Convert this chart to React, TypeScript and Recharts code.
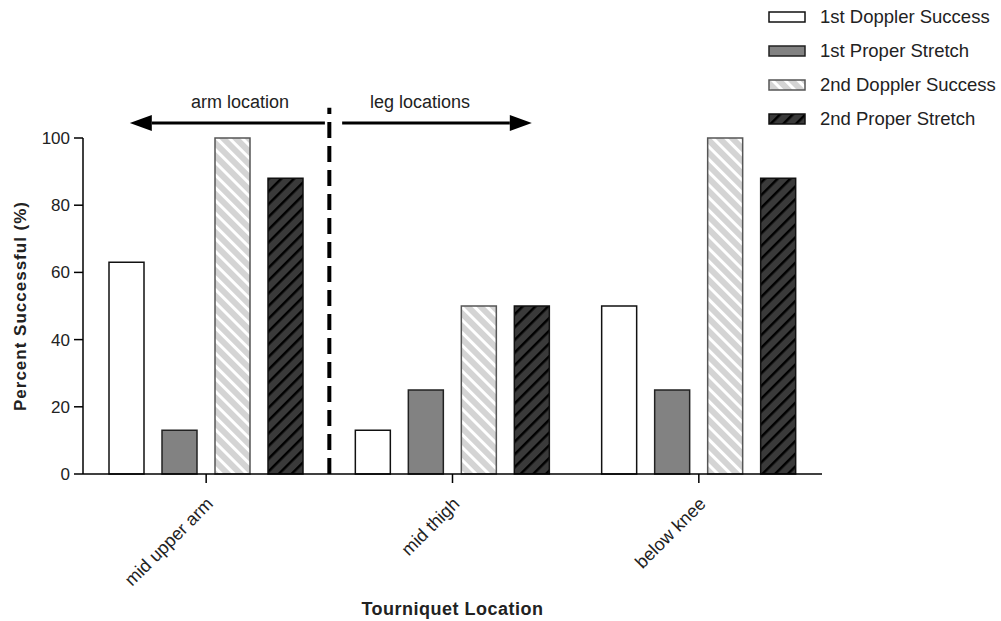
import React from "react";
import {
    BarChart, Bar, XAxis, YAxis, ReferenceLine, ReferenceDot, Legend,
} from "recharts";

const CATEGORIES = ["mid upper arm", "mid thigh", "below knee"];
const FIRST_DOPPLER = [63, 13, 50];
const FIRST_STRETCH = [13, 25, 25];
const SECOND_DOPPLER = [100, 50, 100];
const SECOND_STRETCH = [88, 50, 88];
const Y_TICKS = [0, 20, 40, 60, 80, 100];

const data = CATEGORIES.map((name, i) => ({
    name,
    d1: FIRST_DOPPLER[i],
    s1: FIRST_STRETCH[i],
    d2: SECOND_DOPPLER[i],
    s2: SECOND_STRETCH[i],
}));

const FONT = "'Liberation Sans', Arial, Helvetica, sans-serif";

// annotation axis spans the plot width as 0..3 category bands
const POS_MAX = 3;
const u = (band: number) => (band * 2) / POS_MAX; // hidden axis runs 0..2

const SERIES = [
    { key: "d1", name: "1st Doppler Success", fill: "#ffffff", stroke: "#111" },
    { key: "s1", name: "1st Proper Stretch", fill: "#828282", stroke: "#222" },
    { key: "d2", name: "2nd Doppler Success", fill: "url(#hatchLight)", stroke: "#555" },
    { key: "s2", name: "2nd Proper Stretch", fill: "url(#hatchDark)", stroke: "#111" },
];

function Patterns({ suffix = "" }: { suffix?: string }) {
    return (
        <defs>
            <pattern id={"hatchLight" + suffix} width={9} height={9} patternUnits="userSpaceOnUse" patternTransform="rotate(-45)">
                <rect width={9} height={9} fill="#d4d4d4" />
                <rect width={3} height={9} fill="#ffffff" />
            </pattern>
            <pattern id={"hatchDark" + suffix} width={9} height={9} patternUnits="userSpaceOnUse" patternTransform="rotate(45)">
                <rect width={9} height={9} fill="#3a3a3a" />
                <rect width={2.5} height={9} fill="#000000" />
            </pattern>
        </defs>
    );
}

function XTick({ x, y, payload }: any) {
    return (
        <g transform={`translate(${x + 8},${y + 20})`}>
            <text transform="rotate(-45)" textAnchor="end" fontSize={18} fill="#222" fontFamily={FONT}>
                {payload.value}
            </text>
        </g>
    );
}

function LegendBox() {
    return (
        <div style={{ fontFamily: FONT, fontSize: 18.5, color: "#222" }}>
            {SERIES.map((s) => (
                <div key={s.key} style={{ display: "flex", alignItems: "center", height: 34 }}>
                    <svg width={40} height={14} style={{ marginRight: 12 }}>
                        <Patterns suffix="L" />
                        <rect x={1} y={2} width={36} height={10} fill={s.fill.replace(")", "L)")} stroke={s.stroke} strokeWidth={1.5} />
                    </svg>
                    <span>{s.name}</span>
                </div>
            ))}
        </div>
    );
}

function Arrow({ x1, y1, x2, y2 }: any) {
    const dir = x2 > x1 ? 1 : -1;
    const headLen = 22;
    const baseX = x2 - dir * headLen;
    return (
        <g>
            <line x1={x1} y1={y1} x2={baseX} y2={y2} stroke="#000" strokeWidth={3} />
            <polygon points={`${x2},${y2} ${baseX},${y2 - 8} ${baseX},${y2 + 8}`} fill="#000" />
        </g>
    );
}

function Label({ cx, cy, text }: any) {
    return (
        <text x={cx} y={cy} textAnchor="middle" fontSize={18} fill="#222" fontFamily={FONT}>
            {text}
        </text>
    );
}

export default function App() {
    return (
        <div style={{ position: "absolute", left: 0, top: 0, width: 1001, height: 621, background: "#fff" }}>
            <BarChart
                width={1001}
                height={621}
                data={data}
                margin={{ top: 138, right: 179, bottom: 0, left: 0 }}
                barSize={35}
                barGap={18}
            >
                <Patterns />
                <XAxis
                    dataKey="name"
                    height={147}
                    tickSize={9}
                    tickMargin={2}
                    tick={<XTick />}
                    stroke="#000"
                    strokeWidth={1.5}
                    label={{ value: "Tourniquet Location", position: "insideBottom", offset: 6, fontSize: 18, fontWeight: "bold", fill: "#222", fontFamily: FONT, letterSpacing: 0.5 }}
                />
                <XAxis xAxisId="pos" type="number" domain={[0, 2]} allowDataOverflow hide />
                <YAxis
                    width={83}
                    domain={[0, 100]}
                    ticks={Y_TICKS}
                    tickSize={9}
                    tickMargin={4}
                    stroke="#000"
                    strokeWidth={1.5}
                    tick={{ fontSize: 17, fill: "#222", fontFamily: FONT }}
                    label={{
                        content: ({ viewBox }: any) => (
                            <text
                                x={20}
                                y={viewBox.y + viewBox.height / 2}
                                transform={`rotate(-90, 20, ${viewBox.y + viewBox.height / 2})`}
                                textAnchor="middle"
                                dominantBaseline="central"
                                fontSize={17}
                                fontWeight="bold"
                                fill="#222"
                                fontFamily={FONT}
                                letterSpacing={1}
                            >
                                Percent Successful (%)
                            </text>
                        ),
                    }}
                />
                {SERIES.map((s) => (
                    <Bar key={s.key} dataKey={s.key} name={s.name} fill={s.fill} stroke={s.stroke} strokeWidth={1.5} isAnimationActive={false} />
                ))}
                <ReferenceLine
                    xAxisId="pos"
                    segment={[{ x: u(1), y: 0 }, { x: u(1), y: 109 }]}
                    ifOverflow="visible"
                    stroke="#000"
                    strokeWidth={4}
                    strokeDasharray="16 8"
                />
                <ReferenceLine
                    xAxisId="pos"
                    segment={[{ x: u(0.982), y: 104.5 }, { x: u(0.19), y: 104.5 }]}
                    ifOverflow="visible"
                    shape={(p: any) => <Arrow {...p} />}
                />
                <ReferenceLine
                    xAxisId="pos"
                    segment={[{ x: u(1.052), y: 104.5 }, { x: u(1.822), y: 104.5 }]}
                    ifOverflow="visible"
                    shape={(p: any) => <Arrow {...p} />}
                />
                <ReferenceDot xAxisId="pos" x={u(0.637)} y={108.8} r={0} ifOverflow="visible" shape={(p: any) => <Label {...p} text="arm location" />} />
                <ReferenceDot xAxisId="pos" x={u(1.368)} y={108.8} r={0} ifOverflow="visible" shape={(p: any) => <Label {...p} text="leg locations" />} />
                <Legend
                    layout="vertical"
                    align="center"
                    verticalAlign="middle"
                    content={() => <LegendBox />}
                    wrapperStyle={{ position: "absolute", top: 0, left: 768, width: 233 }}
                />
            </BarChart>
        </div>
    );
}
